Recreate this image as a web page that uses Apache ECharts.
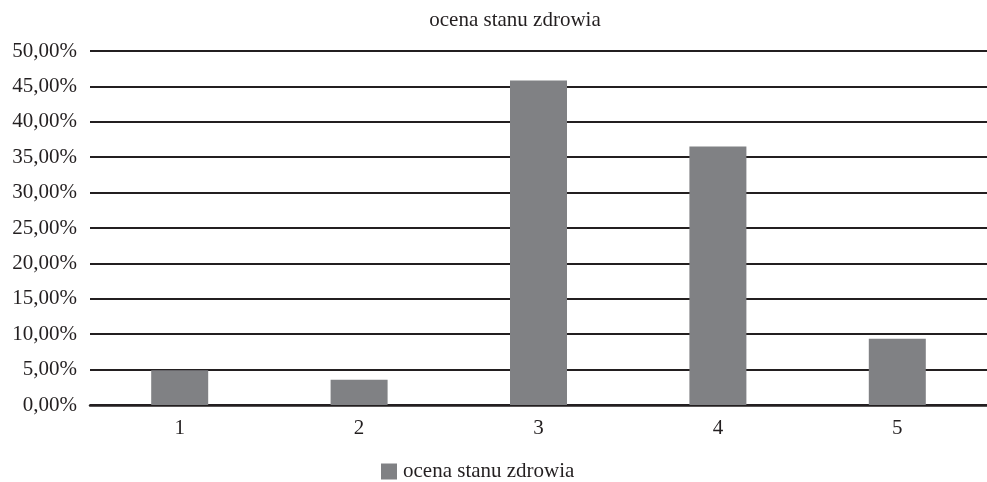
<!DOCTYPE html>
<html>
<head>
<meta charset="utf-8">
<script src="https://cdn.jsdelivr.net/npm/echarts@6/dist/echarts.min.js"></script>
<style>
  html, body { margin: 0; padding: 0; background: #fff; }
  #chart { width: 987px; height: 482px; }
</style>
</head>
<body>
<div id="chart"></div>
<script>
// Self-rated health: share of respondents per rating (1–5)
const chartTitle = 'ocena stanu zdrowia';
const categories = ['1', '2', '3', '4', '5'];
const seriesName = 'ocena stanu zdrowia';
const shares = [4.9, 3.55, 45.85, 36.5, 9.35]; // percent

const serif = '"Liberation Serif", "DejaVu Serif", serif';
const ink = '#231f20';
const fmtPct = v => v.toFixed(2).replace('.', ',') + '%';

const chart = echarts.init(document.getElementById('chart'));
chart.setOption({
  animation: false,
  backgroundColor: '#ffffff',
  title: {
    text: chartTitle,
    left: 510,
    textAlign: 'center',
    top: 5,
    textStyle: { fontFamily: serif, fontSize: 21, fontWeight: 'normal', color: ink }
  },
  legend: {
    data: [seriesName],
    left: 376,
    top: 456,
    itemWidth: 16,
    itemHeight: 16,
    itemGap: 6,
    icon: 'rect',
    textStyle: { fontFamily: serif, fontSize: 21, color: ink, padding: [0, 0, 0, 1] }
  },
  grid: { left: 90, right: -3, top: 51, bottom: 77, containLabel: false },
  xAxis: {
    type: 'category',
    data: categories,
    axisTick: { show: false },
    axisLine: { show: true, lineStyle: { color: ink, width: 2.5 } },
    axisLabel: { fontFamily: serif, fontSize: 21, color: ink, margin: 13 }
  },
  yAxis: {
    type: 'value',
    min: 0,
    max: 50,
    interval: 5,
    axisLine: { show: false },
    axisTick: { show: false },
    splitLine: { lineStyle: { color: ink, width: 2 } },
    axisLabel: { fontFamily: serif, fontSize: 21, color: ink, margin: 13, formatter: fmtPct }
  },
  series: [{
    name: seriesName,
    type: 'bar',
    data: shares,
    barWidth: 57,
    itemStyle: { color: '#808184' }
  }]
});
</script>
</body>
</html>
